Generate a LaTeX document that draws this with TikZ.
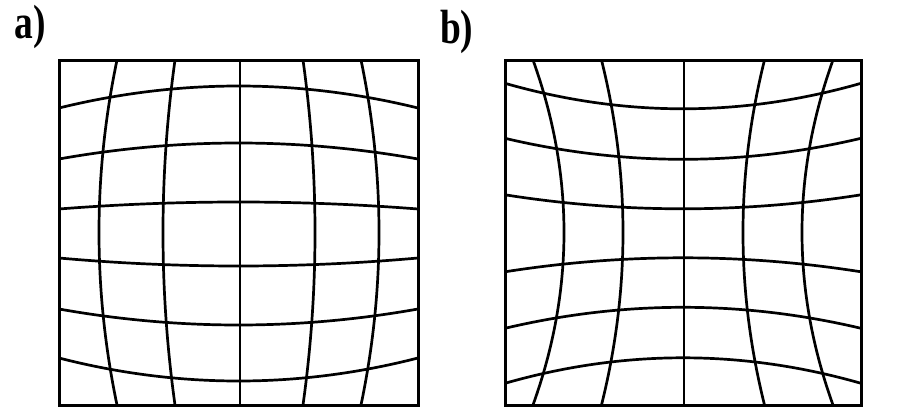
\documentclass[tikz,border=0pt]{standalone}
\usepackage{fontspec}
\setmainfont{Liberation Serif}
\begin{document}
\begin{tikzpicture}[x=1pt,y=-1pt,
  gridline/.style={line width=2.7pt,black},
  frame/.style={line width=3pt,black},
  lbl/.style={anchor=base west,inner sep=0pt,outer sep=0pt,font=\fontsize{48}{48}\selectfont\bfseries}]
\useasboundingbox[fill=white] (0,0) rectangle (898,407);
% labels
\node[lbl] (la) at (15,38) {\scalebox{0.78}[1]{a)}};
\node[lbl] (lb) at (440,43) {\scalebox{0.78}[1]{b)}};
% ---------- a) barrel ----------
\begin{scope}
\clip (59,60) rectangle (418,405);
\foreach \ye/\yc in {108/86,159/143,209/202,258/266,309/325,358/381}{
  \draw[gridline] (59,\ye) .. controls (178.7,{\ye+4/3*(\yc-\ye)}) and (298.3,{\ye+4/3*(\yc-\ye)}) .. (418,\ye);
}
\foreach \xt/\xm in {117/99,175/163,303/315,361/379}{
  \draw[gridline] (\xt,60) .. controls ({\xt+4/3*(\xm-\xt)},175) and ({\xt+4/3*(\xm-\xt)},290) .. (\xt,405);
}
\draw[gridline] (240,60) -- (240,405);
\end{scope}
\draw[frame] (59,60) rectangle (418,405);
% ---------- b) pincushion ----------
\begin{scope}
\clip (505,60) rectangle (861,405);
\foreach \ye/\yc in {83.3/108.8,138.3/159.3,194.8/208.8,271.8/257.8,328.3/307.3,383.3/357.8}{
  \draw[gridline] (505,\ye) .. controls (623.7,{\ye+4/3*(\yc-\ye)}) and (742.3,{\ye+4/3*(\yc-\ye)}) .. (861,\ye);
}
\foreach \xt/\xm in {533/564,601.5/623,764.5/743,833/802}{
  \draw[gridline] (\xt,60) .. controls ({\xt+4/3*(\xm-\xt)},175) and ({\xt+4/3*(\xm-\xt)},290) .. (\xt,405);
}
\draw[gridline] (684,60) -- (684,405);
\end{scope}
\draw[frame] (505,60) rectangle (861,405);
\end{tikzpicture}
\end{document}
